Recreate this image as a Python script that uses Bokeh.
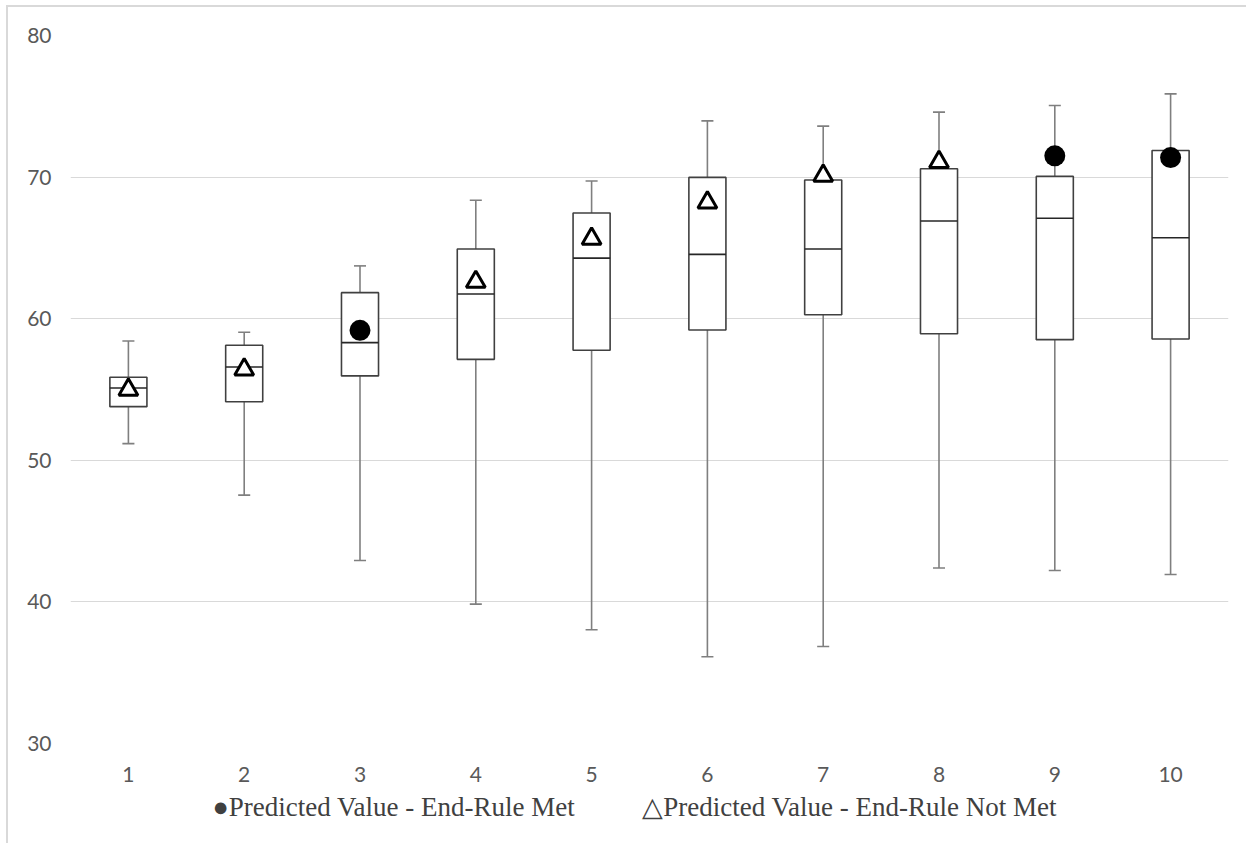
from bokeh.plotting import figure
from bokeh.models import Range1d, FixedTicker, ColumnDataSource, Title
from bokeh.embed import file_html
from bokeh.resources import INLINE
import numpy as np

# ---- data ----
groups = [1, 2, 3, 4, 5, 6, 7, 8, 9, 10]
whisker_low = [51.18, 47.54, 42.92, 39.84, 38.03, 36.13, 36.85, 42.39, 42.22, 41.93]
q1 = [53.79, 54.14, 55.96, 57.13, 57.77, 59.20, 60.28, 58.94, 58.52, 58.57]
median = [55.11, 56.59, 58.31, 61.74, 64.28, 64.54, 64.92, 66.90, 67.09, 65.72]
q3 = [55.86, 58.12, 61.84, 64.92, 67.46, 69.98, 69.79, 70.59, 70.05, 71.88]
whisker_high = [58.43, 59.04, 63.73, 68.36, 69.72, 73.97, 73.60, 74.59, 75.06, 75.88]
predicted = [54.98, 56.42, 59.18, 62.60, 65.65, 68.20, 70.10, 71.07, 71.50, 71.38]
end_rule_met = [False, False, True, False, False, False, False, False, True, True]
y_ticks = [30, 40, 50, 60, 70, 80]
legend_labels = ["\u25cfPredicted Value - End-Rule Met",
                 "\u25b3Predicted Value - End-Rule Not Met"]

BOX_W = 0.32
CAP_W = 0.104

x = np.array(groups, dtype=float)

p = figure(frame_width=1158, frame_height=708,
           x_range=Range1d(0.5, 10.5), y_range=Range1d(30, 80),
           output_backend="svg", toolbar_location=None,
           min_border_left=62, min_border_right=18,
           min_border_top=28, min_border_bottom=100)
p.styles = {"border-left": "2px solid #d9d9d9", "border-top": "2px solid #d9d9d9",
            "margin-left": "6px", "margin-top": "5px"}

p.outline_line_color = None
p.xgrid.visible = False
p.ygrid.grid_line_color = "#d9d9d9"
p.ygrid.grid_line_width = 1

for ax in (p.xaxis, p.yaxis):
    ax.axis_line_color = None
    ax.major_tick_line_color = None
    ax.minor_tick_line_color = None
    ax.major_label_text_font = "Lato"
    ax.major_label_text_font_size = "21px"
    ax.major_label_text_color = "#595959"
p.xaxis.ticker = FixedTicker(ticks=groups)
p.yaxis.ticker = FixedTicker(ticks=y_ticks)
p.yaxis.major_label_standoff = 13
p.xaxis.major_label_standoff = 17

WHISKER = dict(line_color="#7f7f7f", line_width=1.6)
# whisker stems
p.segment(x0=x, y0=q1, x1=x, y1=whisker_low, **WHISKER)
p.segment(x0=x, y0=q3, x1=x, y1=whisker_high, **WHISKER)
# caps
p.segment(x0=x - CAP_W / 2, y0=whisker_low, x1=x + CAP_W / 2, y1=whisker_low, **WHISKER)
p.segment(x0=x - CAP_W / 2, y0=whisker_high, x1=x + CAP_W / 2, y1=whisker_high, **WHISKER)

# boxes
p.vbar(x=x, width=BOX_W, bottom=q1, top=q3, fill_color="white",
       line_color="#404040", line_width=1.6)
# medians
p.segment(x0=x - BOX_W / 2, y0=median, x1=x + BOX_W / 2, y1=median,
          line_color="#262626", line_width=1.6)

met_src = ColumnDataSource(dict(
    x=[g for g, m in zip(groups, end_rule_met) if m],
    y=[v for v, m in zip(predicted, end_rule_met) if m]))
not_src = ColumnDataSource(dict(
    x=[g for g, m in zip(groups, end_rule_met) if not m],
    y=[v for v, m in zip(predicted, end_rule_met) if not m]))

p.scatter("x", "y", source=met_src, marker="circle", size=21,
          fill_color="black", line_color=None)
p.scatter("x", "y", source=not_src, marker="triangle", size=19,
          fill_color="white", line_color="black", line_width=3)

# key line below the axis, written with the same symbol characters as the reference
key_text = legend_labels[0] + "\u00a0" * 10 + legend_labels[1]
key = Title(text=key_text, align="left", offset=142, standoff=10,
            text_font="Liberation Serif", text_font_size="27px",
            text_font_style="normal", text_color="#404040")
p.add_layout(key, "below")

open("out.html", "w").write(file_html(p, INLINE))
